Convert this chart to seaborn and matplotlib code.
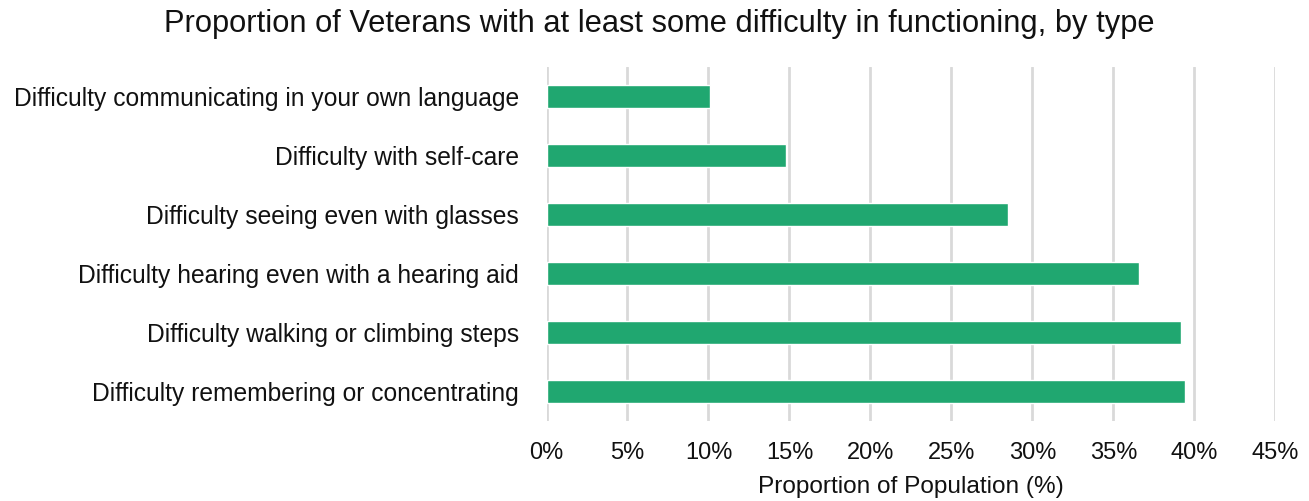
import matplotlib
matplotlib.use("Agg")
import matplotlib.pyplot as plt
import seaborn as sns
import pandas as pd
from matplotlib.ticker import FuncFormatter

# Share of Veterans reporting at least some difficulty, by functioning type
difficulty_types = [
    "Difficulty communicating in your own language",
    "Difficulty with self-care",
    "Difficulty seeing even with glasses",
    "Difficulty hearing even with a hearing aid",
    "Difficulty walking or climbing steps",
    "Difficulty remembering or concentrating",
]
proportion_pct = [10.1, 14.8, 28.5, 36.6, 39.2, 39.4]
x_ticks = [0, 5, 10, 15, 20, 25, 30, 35, 40, 45]

df = pd.DataFrame({"type": difficulty_types, "pct": proportion_pct})

sns.set_theme(style="white")
plt.rcParams["font.family"] = ["Liberation Sans", "DejaVu Sans"]

fig = plt.figure(figsize=(13.09, 5.01), dpi=100)
ax = fig.add_axes([0.4175, 0.1597, 0.9743 - 0.4175, 0.8663 - 0.1597])

sns.barplot(data=df, x="pct", y="type", orient="h", color="#20A770",
            saturation=1, width=0.39, ax=ax, zorder=3)

ax.set_xlim(0, 45)
ax.set_ylim(5.5, -0.5)
ax.set_xticks(x_ticks)
ax.xaxis.set_major_formatter(FuncFormatter(lambda v, _: f"{v:.0f}%"))
ax.grid(axis="x", color="#d9d9d9", linewidth=2, zorder=0)
ax.grid(axis="y", visible=False)
for s in ax.spines.values():
    s.set_visible(False)

ax.tick_params(axis="x", length=0, pad=15, labelsize=17, labelcolor="#111111")
ax.tick_params(axis="y", length=0, pad=20, labelsize=17.7, labelcolor="#111111")
ax.set_ylabel("")
ax.set_xlabel("Proportion of Population (%)", fontsize=17.6, color="#111111", labelpad=9)

fig.suptitle("Proportion of Veterans with at least some difficulty in functioning, by type",
             x=0.504, y=0.953, va="center", fontsize=22.2, color="#111111")

fig.savefig("out.png", dpi=100)
